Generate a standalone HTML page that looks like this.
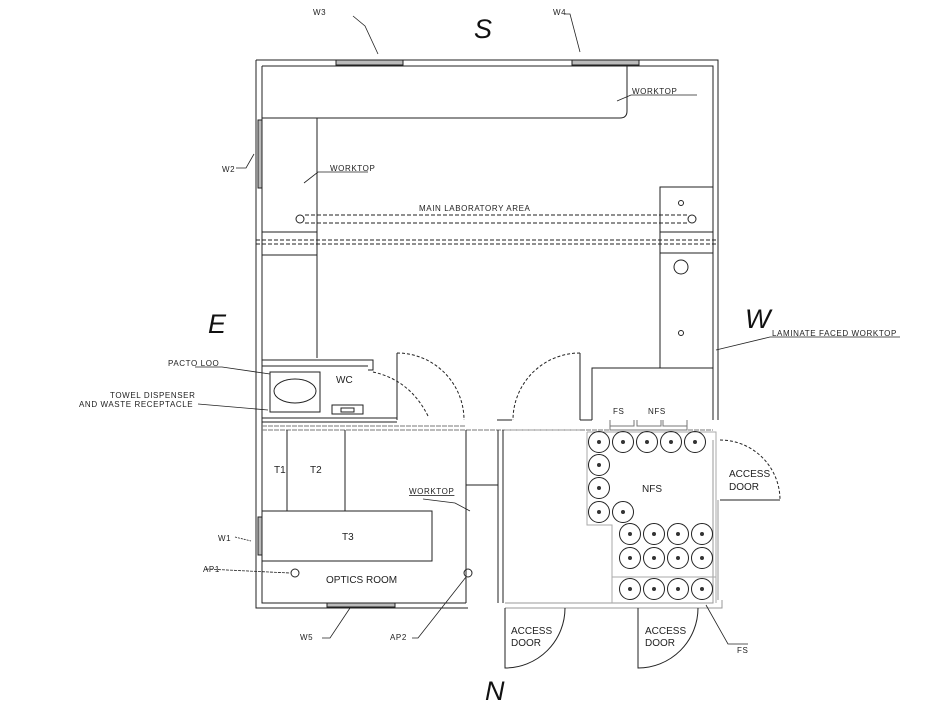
<!DOCTYPE html>
<html><head><style>
html,body{margin:0;padding:0;background:#fff;}
svg{display:block;}
text{font-family:"Liberation Sans",sans-serif;fill:#222;}
.l{font-size:8px;letter-spacing:0.6px;}
.c{font-size:27px;font-weight:300;fill:#111;font-style:italic;}
</style></head><body>
<svg width="931" height="704" viewBox="0 0 931 704" xmlns="http://www.w3.org/2000/svg">
<g fill="none" stroke="#222" stroke-width="1">
<path d="M256 60 H718 V420"/>
<path d="M262 66 H713 V420"/>
<path d="M256 60 V608 H468"/>
<path d="M262 66 V603 H466"/>
<path d="M505 603 H713 V440" stroke="#999"/>
<path d="M505 608 H722 V600" stroke="#999"/>
<path d="M718 500 V600" stroke="#999"/>
<rect x="336" y="60" width="67" height="5" fill="#bbb"/>
<rect x="572" y="60" width="67" height="5" fill="#bbb"/>
<rect x="258" y="120" width="4" height="68" fill="#bbb"/>
<rect x="258" y="517" width="4" height="38" fill="#bbb"/>
<rect x="327" y="603" width="68" height="4" fill="#bbb"/>
<path d="M262 118 H620 Q627 118 627 111 V66"/>
<path d="M317 118 V358"/>
<path d="M262 232 H317 M262 255 H317"/>
<path d="M256 240 H718 M256 244 H718" stroke-dasharray="4 2"/>
<path d="M305 215 H687 M305 223 H687" stroke-dasharray="4 2"/>
<circle cx="300" cy="219" r="4"/><circle cx="692" cy="219" r="4"/>
<path d="M660 368 V187 H713"/>
<path d="M660 232 H713 M660 253 H713"/>
<circle cx="681" cy="203" r="2.5"/><circle cx="681" cy="267" r="7"/><circle cx="681" cy="333" r="2.5"/>
<path d="M592 420 V368 H713"/>
<path d="M262 360 H373 V370 H368"/>
<path d="M262 366 H368"/>
<rect x="270" y="372" width="50" height="40"/>
<ellipse cx="295" cy="391" rx="21" ry="12"/>
<rect x="332" y="405" width="31" height="9"/>
<rect x="341" y="408" width="13" height="4"/>
<path d="M373 372 Q410 380 428 416" stroke-dasharray="3 2"/>
<path d="M262 418 H397 M262 422 H397" />
<path d="M397 420 V353"/>
<path d="M397 353 A67 67 0 0 1 464 420" stroke-dasharray="3 2"/>
<path d="M580 420 V353"/>
<path d="M580 353 A67 67 0 0 0 513 420" stroke-dasharray="3 2"/>
<path d="M497 420 H512 M580 420 H592"/>
<path d="M262 426 H466 M262 430 H713" stroke="#777" stroke-dasharray="5 1"/>
<path d="M610 420 V426 H634 V420 M637 420 V426 H661 V420 M663 420 V426 H687 V420 M610 426 V430 H687 V426" stroke="#777"/>
<path d="M287 430 V511 M345 430 V511"/>
<rect x="262" y="511" width="170" height="50"/>
<path d="M466 430 V603"/>
<circle cx="295" cy="573" r="4"/><circle cx="468" cy="573" r="4"/>
<path d="M466 485 H498 M498 430 V603 M503 430 V603"/>
<path d="M505 430 H580" stroke-dasharray="5 1" stroke="#999"/>
<path d="M587 432 H716 V603 M587 432 V525 H612 V603" stroke="#aaa"/>
<path d="M612 577 H716" stroke="#aaa"/>
<g>
<circle cx="599" cy="442" r="10.5"/><circle cx="623" cy="442" r="10.5"/><circle cx="647" cy="442" r="10.5"/><circle cx="671" cy="442" r="10.5"/><circle cx="695" cy="442" r="10.5"/>
<circle cx="599" cy="465" r="10.5"/><circle cx="599" cy="488" r="10.5"/><circle cx="599" cy="512" r="10.5"/><circle cx="623" cy="512" r="10.5"/>
<circle cx="630" cy="534" r="10.5"/><circle cx="654" cy="534" r="10.5"/><circle cx="678" cy="534" r="10.5"/><circle cx="702" cy="534" r="10.5"/>
<circle cx="630" cy="558" r="10.5"/><circle cx="654" cy="558" r="10.5"/><circle cx="678" cy="558" r="10.5"/><circle cx="702" cy="558" r="10.5"/>
<circle cx="630" cy="589" r="10.5"/><circle cx="654" cy="589" r="10.5"/><circle cx="678" cy="589" r="10.5"/><circle cx="702" cy="589" r="10.5"/>
</g>
<path d="M505 608 V668 A60 60 0 0 0 565 608"/>
<path d="M638 608 V668 A60 60 0 0 0 698 608"/>
<path d="M720 500 H780"/>
<path d="M720 440 A60 60 0 0 1 780 500" stroke-dasharray="3 2"/>
<path d="M353 16 L365 26 L378 54 " stroke-width="0.8"/>
<path d="M565 14 L570 14 L580 52" stroke-width="0.8"/>
<path d="M236 168 L246 168 L254 154" stroke-width="0.8"/>
<path d="M304 183 L318 172 H368" stroke-width="0.8"/>
<path d="M617 101 L631 95 H697" stroke-width="0.8"/>
<path d="M716 350 L770 337 H900" stroke-width="0.8"/>
<path d="M195 367 H222 L270 374" stroke-width="0.8"/>
<path d="M198 404 L268 410" stroke-width="0.8"/>
<path d="M423 499 L455 503 L470 511" stroke-width="0.8"/>
<path d="M235 537 L251 541" stroke-width="0.8" stroke-dasharray="2 1"/>
<path d="M206 569 L290 573" stroke-width="0.8" stroke-dasharray="3 1"/>
<path d="M322 638 L330 638 L350 608" stroke-width="0.8"/>
<path d="M412 638 L418 638 L466 577" stroke-width="0.8"/>
<path d="M706 605 L728 644 H748" stroke-width="0.8"/>
</g>
<g fill="#333">
<circle cx="599" cy="442" r="2"/><circle cx="623" cy="442" r="2"/><circle cx="647" cy="442" r="2"/><circle cx="671" cy="442" r="2"/><circle cx="695" cy="442" r="2"/>
<circle cx="599" cy="465" r="2"/><circle cx="599" cy="488" r="2"/><circle cx="599" cy="512" r="2"/><circle cx="623" cy="512" r="2"/>
<circle cx="630" cy="534" r="2"/><circle cx="654" cy="534" r="2"/><circle cx="678" cy="534" r="2"/><circle cx="702" cy="534" r="2"/>
<circle cx="630" cy="558" r="2"/><circle cx="654" cy="558" r="2"/><circle cx="678" cy="558" r="2"/><circle cx="702" cy="558" r="2"/>
<circle cx="630" cy="589" r="2"/><circle cx="654" cy="589" r="2"/><circle cx="678" cy="589" r="2"/><circle cx="702" cy="589" r="2"/>
</g>
<g class="l">
<text x="313" y="15">W3</text>
<text x="553" y="15">W4</text>
<text x="222" y="172">W2</text>
<text x="330" y="171">WORKTOP</text>
<text x="632" y="94">WORKTOP</text>
<text x="419" y="211">MAIN  LABORATORY  AREA</text>
<text x="772" y="336">LAMINATE  FACED  WORKTOP</text>
<text x="168" y="366">PACTO  LOO</text>
<text x="110" y="398">TOWEL  DISPENSER</text>
<text x="79" y="407">AND  WASTE  RECEPTACLE</text>
<text x="409" y="494" text-decoration="underline">WORKTOP</text>
<text x="218" y="541">W1</text>
<text x="203" y="572">AP1</text>
<text x="300" y="640">W5</text>
<text x="390" y="640">AP2</text>
<text x="613" y="414">FS</text>
<text x="648" y="414">NFS</text>
<text x="737" y="653">FS</text>
</g>
<g style="font-size:10px">
<text x="336" y="383">WC</text>
<text x="274" y="473">T1</text>
<text x="310" y="473">T2</text>
<text x="342" y="540">T3</text>
<text x="326" y="583">OPTICS  ROOM</text>
<text x="642" y="492">NFS</text>
<text x="729" y="477">ACCESS</text><text x="729" y="490">DOOR</text>
<text x="511" y="634">ACCESS</text><text x="511" y="646">DOOR</text>
<text x="645" y="634">ACCESS</text><text x="645" y="646">DOOR</text>
</g>
<text class="c" x="474" y="38">S</text>
<text class="c" x="208" y="333">E</text>
<text class="c" x="745" y="328">W</text>
<text class="c" x="485" y="700">N</text>
</svg>
</body></html>
